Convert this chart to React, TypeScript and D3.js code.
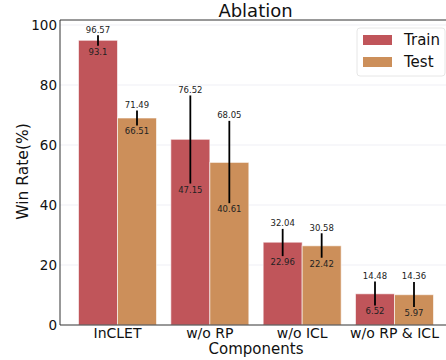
import React, { useEffect, useRef } from 'react';
import * as d3 from 'd3';

const categories = ['InCLET', 'w/o RP', 'w/o ICL', 'w/o RP & ICL'];
const trainMean = [94.9, 61.9, 27.6, 10.4];
const trainHigh = [96.57, 76.52, 32.04, 14.48];
const trainLow = [93.1, 47.15, 22.96, 6.52];
const testMean = [69.0, 54.2, 26.4, 10.1];
const testHigh = [71.49, 68.05, 30.58, 14.36];
const testLow = [66.51, 40.61, 22.42, 5.97];
const yTicks = [0, 20, 40, 60, 80, 100];

const series = [
  { name: 'Train', color: '#c0555a', mean: trainMean, high: trainHigh, low: trainLow, offset: -1 },
  { name: 'Test', color: '#cc8f5a', mean: testMean, high: testHigh, low: testLow, offset: 1 },
];

const FONT = 'DejaVu Sans, sans-serif';

export default function App() {
  const ref = useRef<SVGSVGElement>(null);

  useEffect(() => {
    const svg = d3.select(ref.current);
    svg.selectAll('*').remove();

    const left = 60, right = 446, top = 20, bottom = 325;

    const x = d3.scalePoint<string>().domain(categories).range([117.5, 394.5]);
    const y = d3.scaleLinear().domain([0, 100]).range([bottom, bottom - 300]);
    const barW = 39;

    // grid
    svg.append('g')
      .selectAll('line')
      .data(yTicks.slice(1))
      .join('line')
      .attr('x1', left).attr('x2', right)
      .attr('y1', d => y(d)).attr('y2', d => y(d))
      .attr('stroke', '#ebebf2').attr('stroke-width', 0.8);

    // bars
    series.forEach(s => {
      const g = svg.append('g');
      g.selectAll('rect')
        .data(categories)
        .join('rect')
        .attr('x', d => (x(d) as number) + (s.offset < 0 ? -barW : 0))
        .attr('y', (_, i) => y(s.mean[i]))
        .attr('width', barW)
        .attr('height', (_, i) => y(0) - y(s.mean[i]))
        .attr('fill', s.color)
        .attr('stroke', '#ffffff')
        .attr('stroke-opacity', 0.6)
        .attr('stroke-width', 1);
    });

    // error bars and labels
    series.forEach(s => {
      const g = svg.append('g');
      categories.forEach((c, i) => {
        const cx = (x(c) as number) + s.offset * barW / 2;
        g.append('line')
          .attr('x1', cx).attr('x2', cx)
          .attr('y1', y(s.high[i])).attr('y2', y(s.low[i]))
          .attr('stroke', '#000').attr('stroke-width', 1.8);
        g.append('text')
          .attr('x', cx).attr('y', y(s.high[i]) - 2.5)
          .attr('text-anchor', 'middle')
          .attr('font-family', FONT).attr('font-size', 8.5)
          .attr('fill', '#222')
          .text(String(s.high[i]));
        g.append('text')
          .attr('x', cx).attr('y', y(s.low[i]) + 9)
          .attr('text-anchor', 'middle')
          .attr('font-family', FONT).attr('font-size', 8.5)
          .attr('fill', '#222')
          .text(String(s.low[i]));
      });
    });

    // spines
    const spine = '#333';
    svg.append('line').attr('x1', left).attr('x2', left).attr('y1', top).attr('y2', bottom)
      .attr('stroke', spine).attr('stroke-width', 1);
    svg.append('line').attr('x1', left).attr('x2', right).attr('y1', bottom).attr('y2', bottom)
      .attr('stroke', spine).attr('stroke-width', 1);
    svg.append('line').attr('x1', left).attr('x2', right).attr('y1', top).attr('y2', top)
      .attr('stroke', spine).attr('stroke-width', 1);

    // y tick labels
    svg.append('g')
      .selectAll('text')
      .data(yTicks)
      .join('text')
      .attr('x', 57)
      .attr('y', d => y(d))
      .attr('dy', '0.36em')
      .attr('text-anchor', 'end')
      .attr('font-family', FONT).attr('font-size', 13.5)
      .attr('fill', '#111')
      .text(d => d);

    // x tick labels
    svg.append('g')
      .selectAll('text')
      .data(categories)
      .join('text')
      .attr('x', d => x(d) as number)
      .attr('y', 338)
      .attr('text-anchor', 'middle')
      .attr('font-family', FONT).attr('font-size', 14)
      .attr('fill', '#111')
      .text(d => d);

    // axis titles
    svg.append('text')
      .attr('x', 256).attr('y', 354)
      .attr('text-anchor', 'middle')
      .attr('font-family', FONT).attr('font-size', 15)
      .attr('fill', '#111')
      .text('Components');

    svg.append('text')
      .attr('transform', `translate(28, 171.5) rotate(-90)`)
      .attr('text-anchor', 'middle')
      .attr('font-family', FONT).attr('font-size', 15.5)
      .attr('fill', '#111')
      .text('Win Rate(%)');

    svg.append('text')
      .attr('x', 255.5).attr('y', 17)
      .attr('text-anchor', 'middle')
      .attr('font-family', FONT).attr('font-size', 18)
      .attr('fill', '#111')
      .text('Ablation');

    // legend
    const lg = svg.append('g');
    lg.append('rect')
      .attr('x', 357).attr('y', 28).attr('width', 88).attr('height', 48)
      .attr('rx', 3)
      .attr('fill', '#fff').attr('fill-opacity', 0.8)
      .attr('stroke', '#e0e0e0').attr('stroke-width', 0.8);
    series.forEach((s, i) => {
      lg.append('rect')
        .attr('x', 363).attr('y', 35 + i * 22)
        .attr('width', 29).attr('height', 10)
        .attr('fill', s.color);
      lg.append('text')
        .attr('x', 404).attr('y', 40 + i * 22)
        .attr('dy', '0.36em')
        .attr('font-family', FONT).attr('font-size', 15)
        .attr('fill', '#111')
        .text(s.name);
    });
  }, []);

  return (
    <svg
      ref={ref}
      width={446}
      height={360}
      style={{ position: 'absolute', left: 0, top: 0, background: '#fff' }}
    />
  );
}
